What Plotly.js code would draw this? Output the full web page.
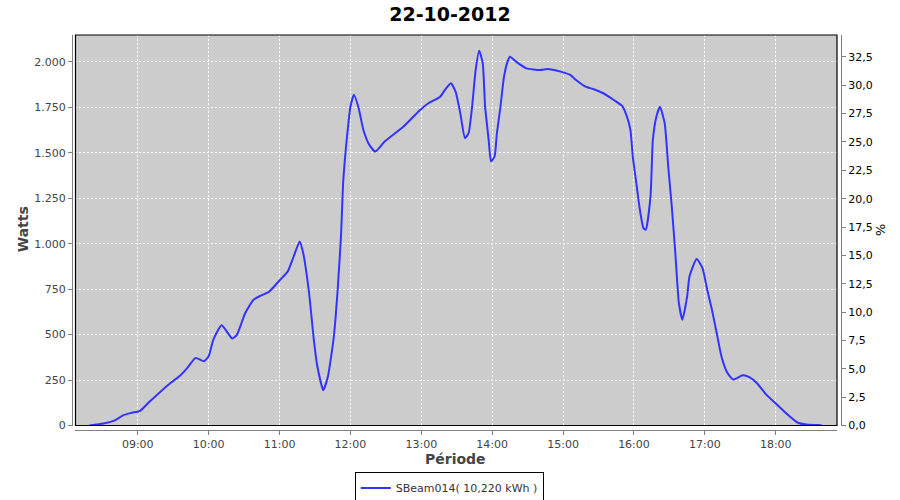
<!DOCTYPE html>
<html>
<head>
<meta charset="utf-8">
<script src="https://cdn.plot.ly/plotly-3.0.1.min.js"></script>
<style>html,body{margin:0;padding:0;background:#fff;}#chart{width:900px;height:500px;}</style>
</head>
<body>
<div id="chart"></div>
<script>
const day = "2012-10-22 ";
const times = ["08:19","08:31","08:40","08:48","08:55","09:02","09:09","09:19","09:28","09:36","09:42","09:49","09:56","10:00","10:04","10:11","10:20","10:24","10:31","10:38","10:44","10:51","11:00","11:07","11:12","11:17","11:20","11:25","11:29","11:32","11:37","11:41","11:46","11:49","11:52","11:54","11:58","12:00","12:03","12:07","12:11","12:16","12:21","12:29","12:45","12:59","13:06","13:16","13:20","13:25","13:29","13:33","13:37","13:40","13:43","13:46","13:49","13:52","13:54","13:57","13:59","14:02","14:04","14:07","14:10","14:13","14:15","14:21","14:29","14:41","14:47","14:58","15:06","15:11","15:19","15:26","15:34","15:43","15:50","15:54","15:57","15:59","16:02","16:05","16:08","16:10","16:14","16:16","16:19","16:22","16:26","16:29","16:32","16:35","16:38","16:41","16:45","16:47","16:53","16:58","17:02","17:06","17:10","17:14","17:19","17:24","17:32","17:38","17:44","17:52","18:01","18:10","18:18","18:26","18:39"];
const watts = [0,11,27,57,70,81,125,185,235,275,317,372,353,381,473,551,478,500,619,692,714,735,798,848,930,1013,949,729,473,326,194,271,491,729,1040,1352,1645,1754,1819,1745,1626,1544,1507,1562,1645,1736,1773,1809,1846,1883,1837,1718,1581,1608,1754,1956,2062,1993,1754,1571,1452,1480,1608,1754,1919,2002,2029,1998,1965,1956,1962,1947,1929,1901,1864,1850,1828,1791,1758,1700,1626,1480,1333,1187,1086,1077,1260,1571,1700,1754,1663,1425,1205,949,674,582,710,820,916,866,747,637,509,381,290,253,276,265,234,170,115,60,18,5,2];
const seriesName = "SBeam014( 10,220 kWh )";
const chartTitle = "22-10-2012";
const xTitle = "Période";
const yTitle = "Watts";
const y2Title = "%";

const x = times.map(t => day + t);
const font = "DejaVu Sans, Verdana, sans-serif";

const traces = [
  {x: x, y: watts, type: "scatter", mode: "lines", name: seriesName,
   line: {color: "#3333ff", width: 2, shape: "spline", smoothing: 0.5}, xaxis: "x", yaxis: "y"},
  {x: [], y: [], type: "scatter", mode: "lines", showlegend: false, xaxis: "x", yaxis: "y2"}
];

const layout = {
  width: 900, height: 500,
  paper_bgcolor: "#ffffff", plot_bgcolor: "#cccccc",
  separators: ",.",
  margin: {l: 71.5, r: 59, t: 35, b: 69.5, pad: 0, autoexpand: false},
  font: {family: font, size: 11, color: "#444444"},
  title: {text: chartTitle, x: 0.5, xref: "container", y: 0.972, yref: "container", xanchor: "center", yanchor: "middle",
          font: {family: font, size: 19, color: "#000000", weight: "bold"}},
  showlegend: true,
  legend: {orientation: "h", x: 0.4906, xanchor: "center", y: -0.1075, yanchor: "top",
           bordercolor: "#000000", borderwidth: 1, bgcolor: "#ffffff",
           font: {family: font, size: 11, color: "#333333"}, itemwidth: 30},
  xaxis: {
    type: "date", domain: [0.00455, 0.9948], anchor: "free", position: 0, automargin: false,
    range: [day + "08:07:18", day + "18:51:51"],
    tick0: day + "09:00", dtick: 3600000, tickformat: "%H:%M",
    showline: true, linecolor: "#808080", linewidth: 1,
    ticks: "outside", ticklen: 4, tickcolor: "#808080",
    showgrid: true, gridcolor: "#ffffff", griddash: "2px,2px", gridwidth: 1,
    zeroline: false,
    tickfont: {family: font, size: 11, color: "#444444"}
  },
  yaxis: {
    domain: [0.01138, 1], anchor: "free", position: 0, automargin: false,
    range: [0, 2148.4], dtick: 250, tick0: 0, tickformat: ",.0f",
    showline: true, linecolor: "#808080", linewidth: 1,
    ticks: "outside", ticklen: 4, tickcolor: "#808080",
    showgrid: true, gridcolor: "#ffffff", griddash: "2px,2px", gridwidth: 1,
    zeroline: false,
    tickfont: {family: font, size: 11, color: "#444444"}
  },
  yaxis2: {
    overlaying: "y", side: "right", anchor: "free", position: 1, automargin: false,
    range: [0, 34.43], dtick: 2.5, tick0: 0, tickformat: ".1f",
    showline: true, linecolor: "#808080", linewidth: 1,
    ticks: "outside", ticklen: 4, tickcolor: "#808080",
    showgrid: false, zeroline: false,
    tickfont: {family: font, size: 11, color: "#000000"}
  },
  annotations: [
    {text: xTitle, xref: "paper", yref: "paper", x: 0.4984, y: -0.0746, xanchor: "center", yanchor: "middle",
     showarrow: false, font: {family: font, size: 14, color: "#444444", weight: "bold"}},
    {text: yTitle, xref: "paper", yref: "paper", x: -0.0643, y: 0.507, xanchor: "center", yanchor: "middle",
     textangle: -90, showarrow: false, font: {family: font, size: 14, color: "#444444", weight: "bold"}},
    {text: y2Title, xref: "paper", yref: "paper", x: 1.0507, y: 0.507, xanchor: "center", yanchor: "middle",
     textangle: 90, showarrow: false, font: {family: font, size: 13, color: "#000000"}}
  ],
  shapes: [
    {type: "rect", xref: "x domain", yref: "y domain", x0: 0, x1: 1, y0: 0, y1: 1,
     line: {color: "#000000", width: 1.2}, fillcolor: "rgba(0,0,0,0)", layer: "above"}
  ]
};

Plotly.newPlot("chart", traces, layout, {displayModeBar: false, staticPlot: true});
</script>
</body>
</html>
